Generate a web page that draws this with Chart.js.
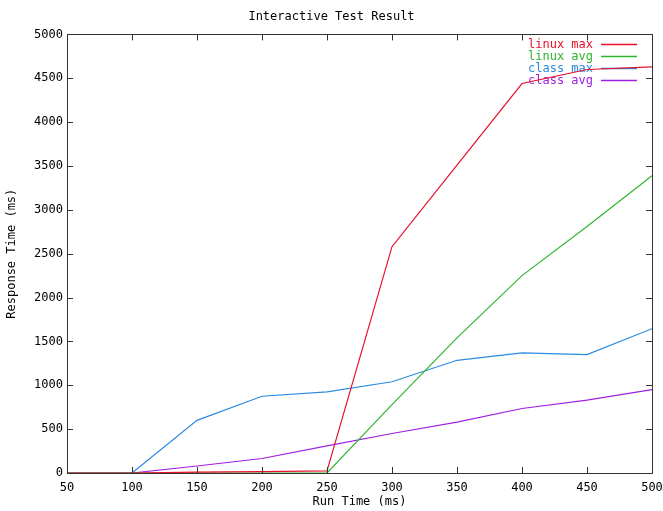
<!DOCTYPE html>
<html>
<head>
<meta charset="utf-8">
<script src="https://cdn.jsdelivr.net/npm/chart.js@4/dist/chart.umd.min.js"></script>
<style>
  html, body { margin: 0; padding: 0; background: #fff; }
  #wrap { width: 663px; height: 511px; }
</style>
</head>
<body>
<div id="wrap"><canvas id="testChart"></canvas></div>
<script>
const runTimes = [50, 100, 150, 200, 250, 300, 350, 400, 450, 500];
const linuxMax = [0, 0, 10, 15, 25, 2580, 3510, 4440, 4600, 4630];
const linuxAvg = [0, 0, 0, 0, 0, 780, 1540, 2250, 2810, 3390];
const classMax = [0, 0, 600, 875, 925, 1040, 1285, 1370, 1350, 1645];
const classAvg = [0, 0, 80, 165, 310, 450, 580, 735, 830, 950];
const seriesNames = ["linux max", "linux avg", "class max", "class avg"];
const seriesColors = ["#e8102a", "#2fb52f", "#2a8be0", "#a020e0"];

const monoFont = "'DejaVu Sans Mono', 'Liberation Mono', monospace";

// gnuplot style box with ticks pointing inwards
const insideTicks = {
    id: "insideTicks",
    afterDatasetsDraw(chart) {
        const {ctx, chartArea: a, scales} = chart;
        ctx.save();
        ctx.strokeStyle = "#333";
        ctx.lineWidth = 1;
        ctx.beginPath();
        scales.x.ticks.forEach(t => {
            const px = Math.round(scales.x.getPixelForValue(t.value)) + 0.5;
            ctx.moveTo(px, a.bottom); ctx.lineTo(px, a.bottom - 6);
            ctx.moveTo(px, a.top); ctx.lineTo(px, a.top + 6);
        });
        scales.y.ticks.forEach(t => {
            const py = Math.round(scales.y.getPixelForValue(t.value)) + 0.5;
            ctx.moveTo(a.left, py); ctx.lineTo(a.left + 6, py);
            ctx.moveTo(a.right, py); ctx.lineTo(a.right - 6, py);
        });
        ctx.stroke();
        ctx.strokeRect(Math.round(a.left) + 0.5, Math.round(a.top) + 0.5,
            Math.round(a.right - a.left), Math.round(a.bottom - a.top));
        ctx.restore();
    }
};

// legend in the top right corner: text first, then the line sample
const keyBox = {
    id: "keyBox",
    beforeDatasetsDraw(chart) {
        const {ctx, chartArea: a} = chart;
        ctx.save();
        ctx.font = "12px " + monoFont;
        ctx.textAlign = "right";
        ctx.textBaseline = "middle";
        chart.data.datasets.forEach((ds, i) => {
            const y = Math.round(a.top + 10 + i * 12) + 0.5;
            ctx.fillStyle = ds.borderColor;
            ctx.fillText(ds.label, a.right - 59, y);
            ctx.strokeStyle = ds.borderColor;
            ctx.lineWidth = 1.5;
            ctx.beginPath();
            ctx.moveTo(a.right - 51, y);
            ctx.lineTo(a.right - 15, y);
            ctx.stroke();
        });
        ctx.restore();
    }
};

const ctx = document.getElementById("testChart");
const datasets = [linuxMax, linuxAvg, classMax, classAvg].map((vals, i) => ({
    label: seriesNames[i],
    data: runTimes.map((x, j) => ({x: x, y: vals[j]})),
    borderColor: seriesColors[i],
    backgroundColor: seriesColors[i],
    borderWidth: 1.2,
    pointRadius: 0,
    tension: 0,
    fill: false
}));

const chart = new Chart(ctx, {
    type: "line",
    data: {datasets: datasets},
    options: {
        responsive: true,
        maintainAspectRatio: false,
        animation: false,
        layout: {padding: {left: 0, right: 0, top: 0, bottom: 0}},
        plugins: {
            legend: {display: false},
            tooltip: {enabled: false},
            title: {
                display: true,
                text: "Interactive Test Result",
                color: "#000",
                font: {family: monoFont, size: 12, weight: "normal"},
                padding: {top: 10, bottom: 10}
            }
        },
        scales: {
            x: {
                type: "linear",
                min: 50,
                max: 500,
                grid: {display: false, drawTicks: false},
                border: {display: false},
                ticks: {stepSize: 50, color: "#000", padding: 8, maxRotation: 0,
                    font: {family: monoFont, size: 12}, callback: v => String(v)},
                title: {display: true, text: "Run Time (ms)", color: "#000",
                    font: {family: monoFont, size: 12}, padding: {top: 0, bottom: 2}},
                afterFit: s => { s.height = 38; s.paddingRight = 11; }
            },
            y: {
                min: 0,
                max: 5000,
                grid: {display: false, drawTicks: false},
                border: {display: false},
                ticks: {stepSize: 500, color: "#000", padding: 4,
                    font: {family: monoFont, size: 12}, callback: v => String(v)},
                title: {display: true, text: "Response Time (ms)", color: "#000",
                    font: {family: monoFont, size: 12}, padding: {top: 5, bottom: 0}},
                afterFit: s => { s.width = 67; }
            }
        }
    },
    plugins: [keyBox, insideTicks]
});
</script>
</body>
</html>
